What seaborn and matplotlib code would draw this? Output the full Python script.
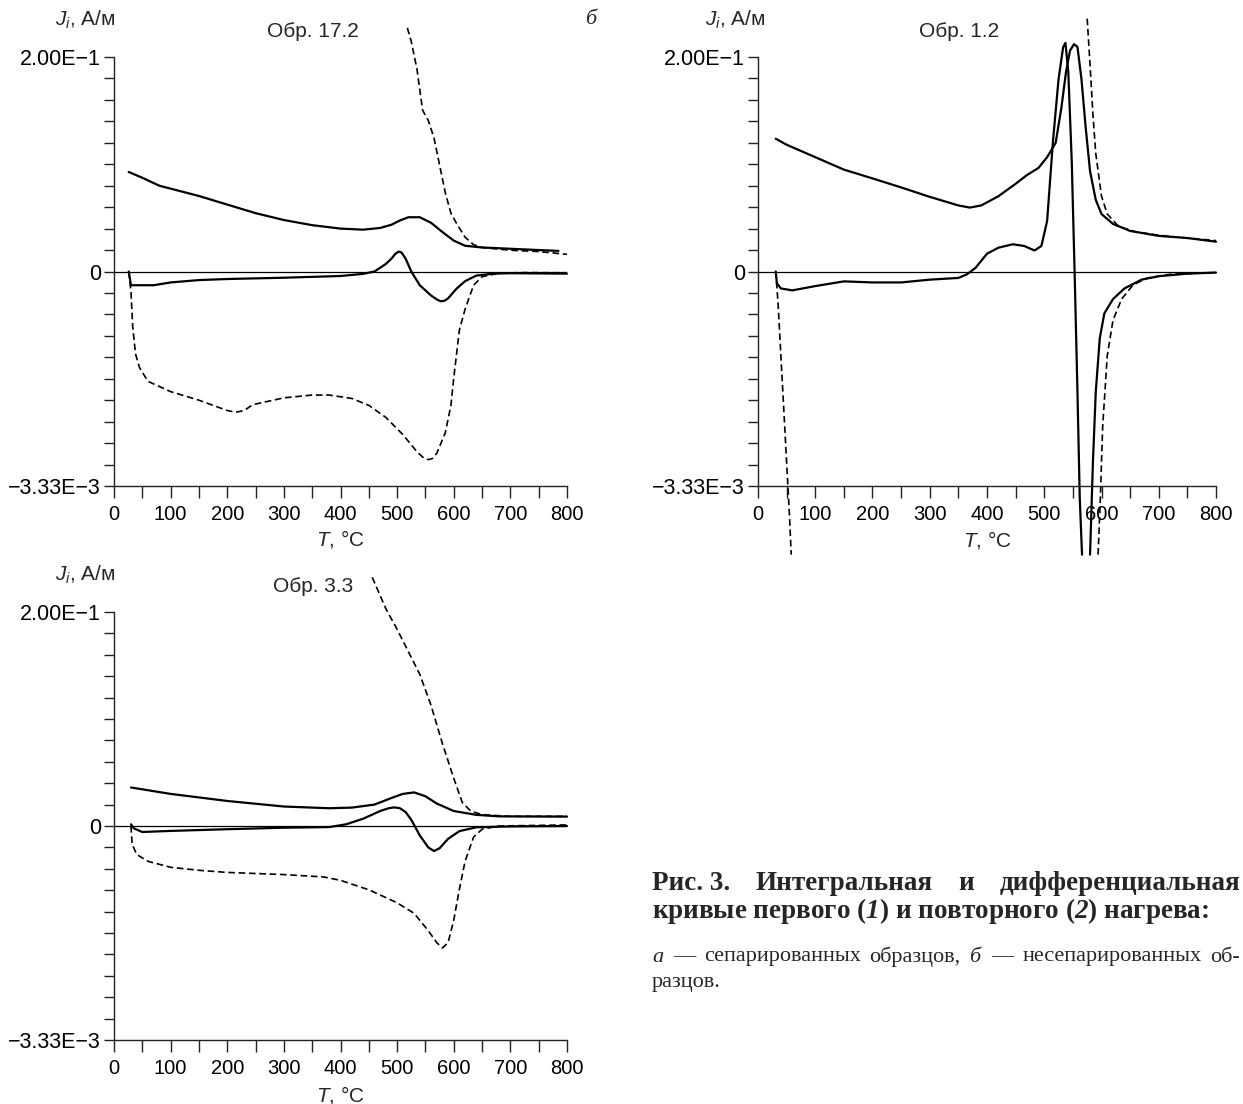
import numpy as np
import matplotlib
matplotlib.use("Agg")
import matplotlib.pyplot as plt
import seaborn as sns

# Значения J_i в относительных единицах оси:
# 1 = отметка 2.00E-1, 0 = ноль, -1 = отметка -3.33E-3

# Обр. 17.2 (первый нагрев - сплошная, повторный - штрих)
t_172_int1 = [26, 50, 80, 150, 200, 250, 300, 350, 400, 440, 470, 490, 505, 520, 540, 560, 580, 600, 620, 650, 700,
              750, 785]
j_172_int1 = [0.464, 0.437, 0.40, 0.352, 0.312, 0.272, 0.24, 0.216, 0.20, 0.195, 0.203, 0.218, 0.238, 0.253, 0.253,
              0.227, 0.184, 0.144, 0.12, 0.112, 0.106, 0.10, 0.096]
t_172_int2 = [518, 525, 535, 545, 555, 565, 575, 585, 595, 605, 620, 635, 650, 700, 750, 800]
j_172_int2 = [1.136, 1.072, 0.944, 0.752, 0.704, 0.624, 0.496, 0.368, 0.272, 0.224, 0.16, 0.125, 0.112, 0.099, 0.093, 0.08]
t_172_dif1 = [26, 30, 70, 100, 150, 200, 300, 400, 440, 460, 480, 490, 497, 503, 508, 515, 525, 540, 560, 570, 577, 584,
              590, 605, 620, 640, 670, 700, 800]
j_172_dif1 = [0, -0.064, -0.064, -0.051, -0.04, -0.035, -0.029, -0.021, -0.011, 0, 0.035, 0.06, 0.083, 0.093, 0.088,
              0.06, 0, -0.064, -0.112, -0.13, -0.139, -0.136, -0.125, -0.08, -0.045, -0.019, -0.01, -0.008, -0.01]
t_172_dif2 = [26, 30, 33, 38, 45, 60, 100, 150, 200, 215, 230, 245, 300, 350, 380, 420, 450, 480, 510, 535, 548, 555,
              562, 570, 585, 595, 600, 610, 620, 635, 650, 680, 720, 800]
j_172_dif2 = [0, -0.096, -0.256, -0.384, -0.448, -0.512, -0.56, -0.60, -0.648, -0.656, -0.648, -0.621, -0.589, -0.576,
              -0.576, -0.592, -0.624, -0.68, -0.76, -0.84, -0.872, -0.877, -0.872, -0.848, -0.752, -0.624, -0.496,
              -0.272, -0.176, -0.064, -0.024, -0.008, -0.005, -0.006]

# Обр. 1.2
t_12_int1 = [31, 50, 100, 150, 200, 250, 300, 350, 370, 390, 420, 450, 470, 490, 505, 520, 530, 538, 545, 552, 558, 565,
             572, 580, 590, 600, 620, 650, 700, 750, 800]
j_12_int1 = [0.619, 0.591, 0.533, 0.475, 0.434, 0.392, 0.348, 0.308, 0.298, 0.308, 0.351, 0.409, 0.45, 0.483, 0.533,
             0.6, 0.765, 0.93, 1.03, 1.06, 1.047, 0.897, 0.682, 0.467, 0.334, 0.268, 0.222, 0.189, 0.166, 0.156, 0.139]
t_12_int2 = [575, 580, 585, 590, 600, 610, 630, 660, 700, 750, 800]
j_12_int2 = [1.179, 0.964, 0.732, 0.55, 0.351, 0.268, 0.21, 0.185, 0.169, 0.156, 0.144]
t_12_dif1a = [31, 33, 40, 60, 100, 150, 200, 250, 300, 350, 365, 380, 400, 420, 445, 465, 483, 495, 505, 515, 525, 533,
              537, 542, 548, 553, 558, 562, 566]
j_12_dif1a = [0, -0.055, -0.079, -0.088, -0.068, -0.046, -0.051, -0.051, -0.038, -0.03, -0.013, 0.017, 0.083, 0.111,
              0.127, 0.119, 0.098, 0.119, 0.235, 0.6, 0.897, 1.046, 1.066, 0.93, 0.517, 0, -0.56, -1.056, -1.32]
t_12_dif1b = [580, 585, 590, 597, 605, 620, 640, 670, 700, 750, 800]
j_12_dif1b = [-1.32, -0.89, -0.56, -0.311, -0.195, -0.129, -0.079, -0.038, -0.022, -0.01, -0.005]
t_12_dif2a = [31, 35, 40, 45, 50, 55, 58]
j_12_dif2a = [0, -0.146, -0.394, -0.642, -0.89, -1.139, -1.32]
t_12_dif2b = [594, 598, 602, 610, 620, 635, 655, 680, 720, 800]
j_12_dif2b = [-1.32, -1.056, -0.725, -0.394, -0.228, -0.129, -0.063, -0.03, -0.013, -0.005]

# Обр. 3.3
t_33_int1 = [30, 100, 200, 300, 380, 420, 460, 490, 510, 530, 550, 570, 600, 640, 680, 800]
j_33_int1 = [0.18, 0.15, 0.117, 0.091, 0.083, 0.086, 0.10, 0.131, 0.15, 0.157, 0.139, 0.105, 0.07, 0.052, 0.045, 0.044]
t_33_int2 = [456, 480, 500, 520, 540, 560, 580, 600, 615, 630, 650, 700, 800]
j_33_int2 = [1.162, 1.016, 0.919, 0.814, 0.709, 0.563, 0.385, 0.223, 0.11, 0.07, 0.053, 0.045, 0.045]
t_33_dif1 = [30, 35, 50, 100, 200, 300, 380, 410, 440, 470, 485, 495, 505, 515, 525, 540, 555, 565, 575, 590, 610, 640,
             700, 800]
j_33_dif1 = [0.008, -0.011, -0.028, -0.023, -0.015, -0.008, -0.005, 0.008, 0.034, 0.07, 0.083, 0.087, 0.083, 0.065,
             0.029, -0.044, -0.10, -0.117, -0.104, -0.06, -0.024, -0.006, -0.002, 0]
t_33_dif2 = [30, 32, 40, 60, 100, 150, 200, 300, 370, 400, 450, 500, 530, 555, 570, 580, 590, 600, 610, 620, 635, 650,
             680, 800]
j_33_dif2 = [0, -0.084, -0.133, -0.165, -0.193, -0.207, -0.217, -0.227, -0.238, -0.254, -0.298, -0.359, -0.408, -0.489,
             -0.545, -0.57, -0.545, -0.44, -0.294, -0.165, -0.052, -0.015, 0, 0.005]

y_ticklabels = {1.0: "2.00E\u22121", 0.0: "0", -1.0: "\u22123.33E\u22123"}
x_ticks = [0, 100, 200, 300, 400, 500, 600, 700, 800]

sns.set_theme(style="ticks")
plt.rcParams["font.family"] = ["Liberation Sans", "DejaVu Sans"]
plt.rcParams["mathtext.fontset"] = "custom"
plt.rcParams["mathtext.rm"] = "Liberation Sans"
plt.rcParams["mathtext.it"] = "Liberation Sans:italic"
plt.rcParams["mathtext.sf"] = "Liberation Serif:italic"
plt.rcParams["mathtext.bfit"] = "Liberation Serif:italic:bold"

W, H = 1243, 1104
fig = plt.figure(figsize=(W / 100, H / 100), dpi=100)


def px(x, y):
    return x / W, 1 - y / H


SOLID = dict(color="black", linewidth=1.6, clip_on=False, estimator=None)
DASH = dict(color="black", linewidth=1.2, linestyle=(0, (4, 2.2)), clip_on=False, estimator=None)


def panel(left, top, right, bottom, solid, dashed, sample):
    x0, y0 = px(left, bottom)
    x1, y1 = px(right, top)
    ax = fig.add_axes([x0, y0, x1 - x0, y1 - y0])
    ax.axhline(0, color="black", linewidth=0.9, zorder=1)
    for t, j in solid:
        sns.lineplot(x=t, y=j, ax=ax, **SOLID)
    for t, j in dashed:
        sns.lineplot(x=t, y=j, ax=ax, **DASH)
    ax.set_xlim(0, 800)
    ax.set_ylim(-1, 1)
    sns.despine(ax=ax)
    for s in ["left", "bottom"]:
        ax.spines[s].set_linewidth(1.0)
        ax.spines[s].set_color("#222222")
    ax.set_xticks(x_ticks)
    ax.set_xticks(np.arange(50, 800, 100), minor=True)
    yt = np.linspace(-1, 1, 21)
    ax.set_yticks(yt)
    ax.set_yticklabels([y_ticklabels.get(round(v, 2), "") for v in yt])
    ax.tick_params(axis="both", which="both", direction="out", color="#222222", width=1.0,
                   labelcolor="black")
    ax.tick_params(axis="x", which="both", length=8.5, pad=5, labelsize=14.5)
    ax.tick_params(axis="y", length=7, pad=2.5, labelsize=15.5)
    ax.set_xlabel("")
    ax.set_ylabel("")
    ax.text(0.44, 1.06, sample, transform=ax.transAxes, ha="center", va="center", fontsize=15)
    return ax


panel(114, 57, 567, 486,
      [(t_172_int1, j_172_int1), (t_172_dif1, j_172_dif1)],
      [(t_172_int2, j_172_int2), (t_172_dif2, j_172_dif2)], "Обр. 17.2")
panel(758, 57, 1216, 486,
      [(t_12_int1, j_12_int1), (t_12_dif1a, j_12_dif1a), (t_12_dif1b, j_12_dif1b)],
      [(t_12_int2, j_12_int2), (t_12_dif2a, j_12_dif2a), (t_12_dif2b, j_12_dif2b)], "Обр. 1.2")
panel(114, 612, 567, 1040,
      [(t_33_int1, j_33_int1), (t_33_dif1, j_33_dif1)],
      [(t_33_int2, j_33_int2), (t_33_dif2, j_33_dif2)], "Обр. 3.3")

# подписи осей
for (x, y) in [(85, 20), (735, 20), (85, 575)]:
    fig.text(*px(x, y), "$J_i$, А/м", ha="center", va="center", fontsize=15)
for (x, y) in [(340, 539), (987, 540), (340, 1095)]:
    fig.text(*px(x, y), "$T$, °C", ha="center", va="center", fontsize=15)

fig.text(*px(591, 20), "б", ha="center", va="center", fontsize=16, family="Liberation Serif", style="italic")


def justify(words, x_left, x_right, y, **kw):
    # раскладка строки по ширине, как в наборе подписи
    texts = [fig.text(*px(x_left, y), w, ha="left", va="center", **kw) for w in words]
    renderer = fig.canvas.get_renderer()
    widths = [t.get_window_extent(renderer).width for t in texts]
    gap = (x_right - x_left - sum(widths)) / (len(words) - 1)
    x = x_left
    for t, w in zip(texts, widths):
        t.set_x(x / W)
        x += w + gap


# подпись к рисунку
cap = dict(fontsize=19.5, family="Liberation Serif", fontweight="bold")
justify(["Рис. 3.", "Интегральная", "и", "дифференциальная"], 652, 1240, 883, **cap)
fig.text(*px(652, 911), r"кривые первого ($\mathbfit{1}$) и повторного ($\mathbfit{2}$) нагрева:",
         ha="left", va="center", **cap)

sub = dict(fontsize=16, family="Liberation Serif")
justify([r"$\mathsf{а}$", "—", "сепарированных", "образцов,", r"$\mathsf{б}$", "—", "несепарированных", "об-"],
        652, 1240, 957, **sub)
fig.text(*px(652, 983), "разцов.", ha="left", va="center", **sub)

fig.savefig("out.png", dpi=100)
